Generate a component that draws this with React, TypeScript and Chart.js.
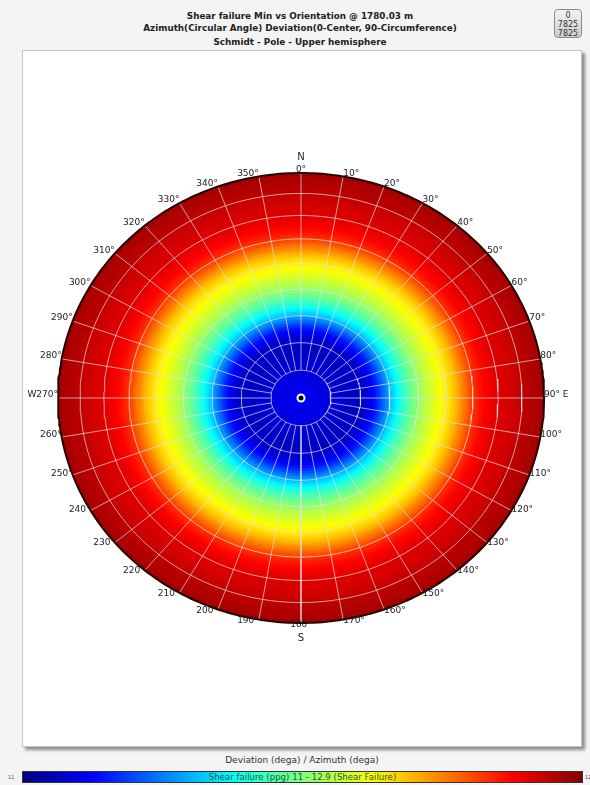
import React, { useEffect, useRef } from "react";
import { Chart, registerables } from "chart.js";

Chart.register(...registerables);

// ---------- data ----------
const titleLines = [
  "Shear failure Min vs Orientation @ 1780.03 m",
  "Azimuth(Circular Angle) Deviation(0-Center, 90-Circumference)",
  "Schmidt - Pole - Upper hemisphere",
];

// deviation (deg from centre) of each colour ring
const deviations = [
  0, 1, 2, 3, 4, 5, 6, 7, 8, 9, 10, 11, 12, 13, 14, 15, 16, 17, 18, 19, 20, 21, 22, 23, 24,
  25, 26, 27, 28, 29, 30, 31, 32, 33, 34, 35, 36, 37, 38, 39, 40, 41, 42, 43, 44, 45, 46, 47,
  48, 49, 50, 51, 52, 53, 54, 55, 56, 57, 58, 59, 60, 61, 62, 63, 64, 65, 66, 67, 68, 69, 70,
  71, 72, 73, 74, 75, 76, 77, 78, 79, 80, 81, 82, 83, 84, 85, 86, 87, 88, 89, 90,
];
// minimum shear failure (ppg) at each deviation (azimuth independent)
const shearValues = [
  11.21, 11.21, 11.21, 11.21, 11.2, 11.2, 11.19, 11.19, 11.18, 11.18, 11.17, 11.16, 11.16,
  11.15, 11.14, 11.14, 11.13, 11.13, 11.13, 11.13, 11.14, 11.14, 11.16, 11.19, 11.23, 11.27,
  11.32, 11.38, 11.44, 11.5, 11.57, 11.63, 11.68, 11.73, 11.78, 11.82, 11.86, 11.89, 11.93,
  11.96, 11.99, 12.02, 12.05, 12.07, 12.09, 12.12, 12.14, 12.16, 12.18, 12.2, 12.22, 12.24,
  12.27, 12.3, 12.33, 12.37, 12.41, 12.44, 12.48, 12.52, 12.55, 12.59, 12.61, 12.63, 12.65,
  12.67, 12.68, 12.69, 12.7, 12.71, 12.72, 12.73, 12.73, 12.73, 12.74, 12.74, 12.75, 12.76,
  12.76, 12.77, 12.78, 12.79, 12.79, 12.8, 12.8, 12.81, 12.81, 12.82, 12.82, 12.83, 12.83,
];
const valueMin = 11;
const valueMax = 12.9;

const gridDeviations = [10, 20, 30, 40, 50, 60, 70, 80];
const azimuths = [
  0, 10, 20, 30, 40, 50, 60, 70, 80, 90, 100, 110, 120, 130, 140, 150, 160, 170, 180, 190,
  200, 210, 220, 230, 240, 250, 260, 270, 280, 290, 300, 310, 320, 330, 340, 350,
];
const azimuthLabels = [
  "0°", "10°", "20°", "30°", "40°", "50°", "60°", "70°", "80°", "90° E", "100°", "110°",
  "120°", "130°", "140°", "150°", "160°", "170°", "180°", "190°", "200°", "210°", "220°",
  "230°", "240°", "250°", "260°", "W270°", "280°", "290°", "300°", "310°", "320°", "330°",
  "340°", "350°",
];
const axisTitle = "Deviation (dega) / Azimuth (dega)";
const colorbarTitle = "Shear failure (ppg) 11 - 12.9 (Shear Failure)";
const colorbarMinLabel = "11";
const colorbarMaxLabel = "12.9";
const badgeLines = ["0", "7825", "7825"];

// ---------- helpers ----------
const clamp01 = (v: number) => Math.max(0, Math.min(1, v));
function jet(t: number) {
  t = clamp01(t);
  const r = clamp01(1.5 - Math.abs(4 * t - 3));
  const g = clamp01(1.5 - Math.abs(4 * t - 2));
  const b = clamp01(1.5 - Math.abs(4 * t - 1));
  return `rgb(${Math.round(r * 255)},${Math.round(g * 255)},${Math.round(b * 255)})`;
}
// Schmidt (equal-area) projection: deviation -> normalised radius
const schmidt = (dev: number) => Math.sin((dev * Math.PI) / 360) / Math.SQRT1_2;
function ellipsePts(dev: number, n = 180) {
  const r = schmidt(dev);
  const pts: { x: number; y: number }[] = [];
  for (let k = 0; k <= n; k++) {
    const a = (k / n) * Math.PI * 2;
    pts.push({ x: r * Math.sin(a), y: r * Math.cos(a) });
  }
  return pts;
}

const FONT = '"DejaVu Sans", Verdana, sans-serif';

const labelPlugin = {
  id: "stereoLabels",
  afterDraw(chart: any) {
    const { ctx } = chart;
    const xs = chart.scales.x;
    const ys = chart.scales.y;
    ctx.save();
    ctx.font = `9px ${FONT}`;
    ctx.fillStyle = "#222";
    ctx.textBaseline = "middle";
    azimuths.forEach((az, i) => {
      const a = (az * Math.PI) / 180;
      const px = xs.getPixelForValue(Math.sin(a));
      const c = Math.cos(a);
      const py = ys.getPixelForValue(c) - 3 + (c < 0 ? -4.5 * c : 0);
      ctx.textAlign = az === 0 || az === 180 ? "center" : az < 180 ? "left" : "right";
      ctx.fillText(azimuthLabels[i], px, py);
    });
    ctx.textAlign = "center";
    ctx.font = `10px ${FONT}`;
    ctx.fillText("N", xs.getPixelForValue(0), ys.getPixelForValue(1) - 16);
    ctx.fillText("S", xs.getPixelForValue(0), ys.getPixelForValue(-1) + 15);
    ctx.restore();
  },
};

function App() {
  const ref = useRef<HTMLCanvasElement>(null);
  useEffect(() => {
    if (!ref.current) return;
    const datasets: any[] = [];
    const gridColor = "rgba(225,225,225,0.7)";
    // centre marker (top)
    datasets.push({
      data: [{ x: 0, y: 0 }],
      showLine: false,
      pointRadius: 3.5,
      pointBackgroundColor: "#000",
      pointBorderColor: "#fff",
      pointBorderWidth: 2,
    });
    // outer boundary
    datasets.push({
      data: ellipsePts(90, 360),
      borderColor: "#220000",
      borderWidth: 2,
      pointRadius: 0,
      fill: false,
    });
    // radial grid
    azimuths.forEach((az) => {
      const a = (az * Math.PI) / 180;
      const r0 = schmidt(gridDeviations[0]);
      const r1 = schmidt(90);
      datasets.push({
        data: [
          { x: r0 * Math.sin(a), y: r0 * Math.cos(a) },
          { x: r1 * Math.sin(a), y: r1 * Math.cos(a) },
        ],
        borderColor: gridColor,
        borderWidth: 1,
        pointRadius: 0,
        fill: false,
      });
    });
    // circle grid
    gridDeviations.forEach((d) => {
      datasets.push({
        data: ellipsePts(d),
        borderColor: gridColor,
        borderWidth: 1,
        pointRadius: 0,
        fill: false,
      });
    });
    // colour rings, innermost on top
    deviations.forEach((d, i) => {
      const outer = Math.min(90, d + 0.5);
      datasets.push({
        data: ellipsePts(outer),
        borderColor: "transparent",
        borderWidth: 0,
        backgroundColor: jet((shearValues[i] - valueMin) / (valueMax - valueMin)),
        pointRadius: 0,
        fill: "shape",
      });
    });
    datasets.forEach((ds, i) => {
      ds.order = i;
      ds.tension = 0;
      ds.clip = false;
    });

    const chart = new Chart(ref.current, {
      type: "line",
      data: { datasets },
      options: {
        animation: false,
        responsive: false,
        maintainAspectRatio: false,
        events: [],
        layout: { padding: { left: 36, right: 38, top: 123, bottom: 124 } },
        scales: {
          x: { type: "linear", min: -1, max: 1, display: false },
          y: { type: "linear", min: -1, max: 1, display: false },
        },
        plugins: { legend: { display: false }, tooltip: { enabled: false } },
      },
      plugins: [labelPlugin],
    } as any);
    return () => chart.destroy();
  }, []);

  const jetGradient =
    "linear-gradient(to right, #000080 0%, #0000ff 12.5%, #00ffff 37.5%, #ffff00 62.5%, #ff0000 87.5%, #800000 100%)";

  return (
    <div
      style={{
        position: "absolute",
        left: 0,
        top: 0,
        width: 590,
        height: 785,
        background: "#f4f4f4",
        fontFamily: FONT,
        overflow: "hidden",
      }}
    >
      {titleLines.map((t, i) => (
        <div
          key={i}
          style={{
            position: "absolute",
            left: 0,
            width: 600,
            top: [10, 22, 36][i],
            height: 12,
            lineHeight: "12px",
            textAlign: "center",
            fontWeight: "bold",
            fontSize: 8.8,
            color: "#222",
            whiteSpace: "nowrap",
          }}
        >
          {t}
        </div>
      ))}
      <div
        style={{
          position: "absolute",
          left: 554,
          top: 9,
          width: 28,
          height: 29,
          border: "1px solid #8a8a8a",
          borderRadius: 4,
          background: "linear-gradient(#f2f2f2, #cccccc)",
          fontSize: 8,
          lineHeight: "9px",
          textAlign: "center",
          color: "#333",
          paddingTop: 1,
          boxSizing: "border-box",
        }}
      >
        {badgeLines.map((b, i) => (
          <div key={i}>{b}</div>
        ))}
      </div>
      <div
        style={{
          position: "absolute",
          left: 22,
          top: 50,
          width: 560,
          height: 697,
          background: "#fff",
          border: "1px solid #c4c4c4",
          boxSizing: "border-box",
          boxShadow: "3px 3px 3px #8c8c8c",
        }}
      />
      <canvas
        ref={ref}
        width={560}
        height={697}
        style={{ position: "absolute", left: 22, top: 50, width: 560, height: 697 }}
      />
      <div
        style={{
          position: "absolute",
          left: 0,
          width: 604,
          top: 754,
          height: 12,
          lineHeight: "12px",
          textAlign: "center",
          fontSize: 9,
          color: "#333",
        }}
      >
        {axisTitle}
      </div>
      <div
        style={{
          position: "absolute",
          left: 22,
          top: 771,
          width: 561,
          height: 12,
          background: jetGradient,
          border: "1px solid #333",
          boxSizing: "border-box",
          textAlign: "center",
          fontSize: 8.6,
          lineHeight: "10px",
          color: "#2a5a2a",
          whiteSpace: "nowrap",
        }}
      >
        {colorbarTitle}
      </div>
      <div style={{ position: "absolute", left: 8, top: 774, fontSize: 5, color: "#444" }}>
        {colorbarMinLabel}
      </div>
      <div style={{ position: "absolute", left: 585, top: 774, fontSize: 5, color: "#444" }}>
        {colorbarMaxLabel}
      </div>
    </div>
  );
}

export default App;
